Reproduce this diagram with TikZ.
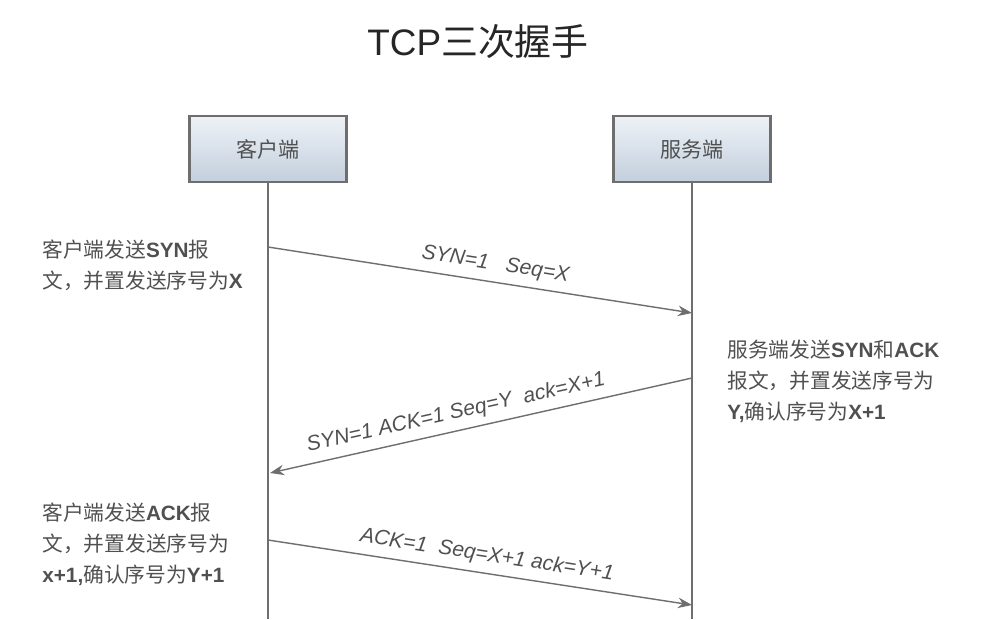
\documentclass[tikz,border=0pt]{standalone}
\usepackage{fontspec}
\setmainfont{Liberation Sans}
\newfontfamily\cjk{Noto Sans CJK SC}
\newcommand{\zh}[1]{{\cjk\mdseries #1}}
\usetikzlibrary{arrows.meta}
\definecolor{linegray}{HTML}{6E6E6E}
\definecolor{textgray}{HTML}{505050}
\definecolor{boxtop}{HTML}{EEF2F7}
\definecolor{boxbottom}{HTML}{C3CFDD}

\begin{document}
\begin{tikzpicture}[x=0.02cm, y=-0.02cm,
        party/.style={draw=linegray, line width=1.2pt, top color=boxtop, bottom color=boxbottom,
            minimum width=3.14cm, minimum height=1.32cm, text=textgray, font=\fontsize{12}{14}\selectfont},
        life/.style={draw=linegray, line width=0.8pt},
        msg/.style={draw=linegray, line width=0.8pt, -{Stealth[length=8pt, width=6pt]}},
        msglabel/.style={sloped, above, inner sep=4pt, text=textgray, font=\fontsize{12}{14}\selectfont\itshape},
        note/.style={anchor=north west, align=left, inner sep=0pt, text=textgray, font=\fontsize{11.8}{17.5}\selectfont\bfseries}
    ]
    \useasboundingbox (0,0) rectangle (1000,619);
    % Titel
    \node[text=black!85, font=\fontsize{21}{24}\selectfont] (title) at (478,42) {TCP\zh{三次握手}};
    % Kopf der Lebenslinien
    \node[party] (client) at (268,149) {\zh{客户端}};
    \node[party] (server) at (692,149) {\zh{服务端}};
    \coordinate (clientEnd) at (268,619);
    \coordinate (serverEnd) at (692,619);
    \draw[life] (client) -- (clientEnd);
    \draw[life] (server) -- (serverEnd);
    % Nachrichten
    \coordinate (syn1) at (268,247);
    \coordinate (syn2) at (692,313);
    \coordinate (synack1) at (692,378);
    \coordinate (synack2) at (270,473);
    \coordinate (ack1) at (268,540);
    \coordinate (ack2) at (692,605);
    \draw[msg] (syn1) -- node[msglabel, pos=0.53] (synLabel) {SYN=1\ \ \ Seq=X} (syn2);
    \draw[msg] (synack1) -- node[msglabel, pos=0.55] (synackLabel) {SYN=1 ACK=1 Seq=Y\ \ ack=X+1} (synack2);
    \draw[msg] (ack1) -- node[msglabel, pos=0.51] (ackLabel) {ACK=1\ \ Seq=X+1 ack=Y+1} (ack2);
    % Erklaerungen
    \node[note] (noteSyn) at (42,240) {\zh{客户端发送}SYN\zh{报}\\\zh{文，并置发送序号为}X};
    \node[note] (noteSynAck) at (727,340) {\zh{服务端发送}SYN\zh{和}ACK\\\zh{报文，并置发送序号为}\\Y,\zh{确认序号为}X+1};
    \node[note] (noteAck) at (42,503) {\zh{客户端发送}ACK\zh{报}\\\zh{文，并置发送序号为}\\x+1,\zh{确认序号为}Y+1};
\end{tikzpicture}
\end{document}
